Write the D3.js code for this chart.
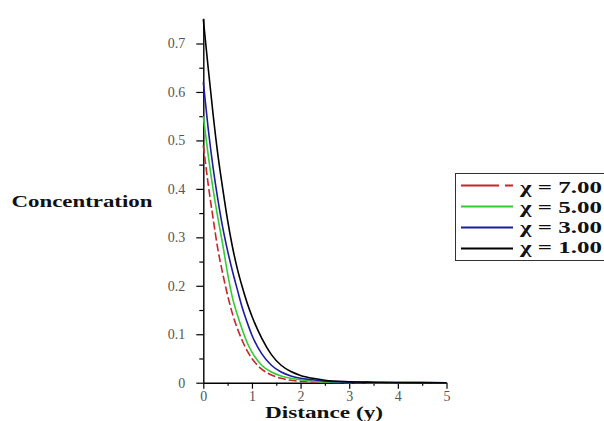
<!DOCTYPE html>
<html>
<head>
<meta charset="utf-8">
<script src="https://cdn.jsdelivr.net/npm/d3@7.9.0/dist/d3.min.js"></script>
<style>
  body { margin: 0; background: #fff; }
  svg { display: block; }
  text { font-family: "Liberation Serif", "DejaVu Serif", serif; }
</style>
</head>
<body>
<svg width="604" height="421"></svg>
<script>
// distance values shared by every curve
const distance = [0, 0.1, 0.2, 0.3, 0.4, 0.5, 0.6, 0.7, 0.8, 0.9, 1.0, 1.2, 1.4, 1.6, 1.8, 2.0, 2.25, 2.5, 3, 3.5, 4, 5];

// concentration, one list per chi
const chi7 = [0.49, 0.41, 0.34, 0.275, 0.225, 0.18, 0.142, 0.112, 0.087, 0.066, 0.05, 0.028, 0.016, 0.009, 0.005, 0.003, 0.0015, 0.0008, 0.0002, 0, 0, 0];
const chi5 = [0.55, 0.47, 0.40, 0.34, 0.285, 0.225, 0.175, 0.14, 0.11, 0.083, 0.063, 0.036, 0.022, 0.014, 0.009, 0.006, 0.003, 0.0015, 0.0005, 0.0002, 0, 0];
const chi3 = [0.62, 0.525, 0.445, 0.378, 0.32, 0.272, 0.23, 0.192, 0.155, 0.125, 0.098, 0.06, 0.036, 0.022, 0.014, 0.009, 0.006, 0.003, 0.0012, 0.0005, 0.0002, 0];
const chi1 = [0.75, 0.65, 0.555, 0.47, 0.40, 0.335, 0.28, 0.235, 0.198, 0.165, 0.137, 0.092, 0.058, 0.036, 0.023, 0.015, 0.009, 0.005, 0.002, 0.001, 0.0003, 0];

const legendLabels = ['χ = 7.00', 'χ = 5.00', 'χ = 3.00', 'χ = 1.00'];
const yTicks = [0, 0.1, 0.2, 0.3, 0.4, 0.5, 0.6, 0.7];
const xTicks = [0, 1, 2, 3, 4, 5];

const series = [
  { values: chi7, color: '#c8262a', dash: '8,3', legendDash: '38,6,8' },
  { values: chi5, color: '#33cc33', dash: null, legendDash: null },
  { values: chi3, color: '#1c1ca0', dash: null, legendDash: null },
  { values: chi1, color: '#000000', dash: null, legendDash: null },
];

let svg = d3.select('svg');

let x = d3.scaleLinear().domain([0, 5]).range([203.3, 446.5]);
let y = d3.scaleLinear().domain([0, 0.752]).range([382.7, 18.3]);

// minor ticks first, then majors with labels
svg.append('g')
  .attr('transform', `translate(${x(0)},0)`)
  .call(d3.axisLeft(y).tickValues(d3.range(0.05, 0.75, 0.1)).tickSize(4).tickFormat(''))
  .call((g) => g.select('.domain').remove());

svg.append('g')
  .attr('transform', `translate(${x(0)},0)`)
  .call(d3.axisLeft(y).tickValues(yTicks).tickSize(7).tickSizeOuter(0).tickPadding(11)
    .tickFormat((d) => (d === 0 ? '0' : d3.format('.1f')(d))));

svg.append('g')
  .attr('transform', `translate(0,${y(0)})`)
  .call(d3.axisBottom(x).tickValues(d3.range(0.5, 5, 1)).tickSize(3).tickFormat(''))
  .call((g) => g.select('.domain').remove());

svg.append('g')
  .attr('transform', `translate(0,${y(0)})`)
  .call(d3.axisBottom(x).tickValues(xTicks).tickSize(6).tickSizeOuter(0).tickPadding(2)
    .tickFormat(d3.format('d')));

svg.selectAll('.tick line').attr('stroke', '#000').attr('stroke-width', 1.2);
svg.selectAll('.domain').attr('stroke', '#000').attr('stroke-width', 1.4);
svg.selectAll('.tick text')
  .attr('font-size', 14)
  .attr('fill', '#555');

// curves
let line = d3.line()
  .x((d) => x(d[0]))
  .y((d) => y(d[1]))
  .curve(d3.curveMonotoneX);

series.forEach((s) => {
  svg.append('path')
    .datum(distance.map((d, i) => [d, s.values[i]]))
    .attr('d', line)
    .attr('fill', 'none')
    .attr('stroke', s.color)
    .attr('stroke-width', 1.6)
    .attr('stroke-dasharray', s.dash);
});

// axis titles
svg.append('text')
  .attr('x', 11.5)
  .attr('y', 206.5)
  .attr('font-size', 17)
  .attr('font-weight', 'bold')
  .attr('fill', '#111')
  .attr('textLength', 141)
  .attr('lengthAdjust', 'spacingAndGlyphs')
  .text('Concentration');

svg.append('text')
  .attr('x', 265)
  .attr('y', 417.5)
  .attr('font-size', 17)
  .attr('font-weight', 'bold')
  .attr('fill', '#111')
  .attr('textLength', 118)
  .attr('lengthAdjust', 'spacingAndGlyphs')
  .text('Distance (y)');

// legend
let legend = svg.append('g');
legend.append('rect')
  .attr('x', 455.5)
  .attr('y', 173.5)
  .attr('width', 160)
  .attr('height', 87)
  .attr('fill', '#fff')
  .attr('stroke', '#333')
  .attr('stroke-width', 1);

series.forEach((s, i) => {
  let ly = 185.5 + i * 21;
  legend.append('line')
    .attr('x1', 461)
    .attr('x2', 513)
    .attr('y1', ly)
    .attr('y2', ly)
    .attr('stroke', s.color)
    .attr('stroke-width', 1.8)
    .attr('stroke-dasharray', s.legendDash);
  legend.append('text')
    .attr('x', 520)
    .attr('y', 192.5 + i * 20)
    .attr('font-size', 16)
    .attr('font-weight', 'bold')
    .attr('fill', '#111')
    .attr('textLength', 82)
    .attr('lengthAdjust', 'spacingAndGlyphs')
    .text(legendLabels[i]);
});
</script>
</body>
</html>
